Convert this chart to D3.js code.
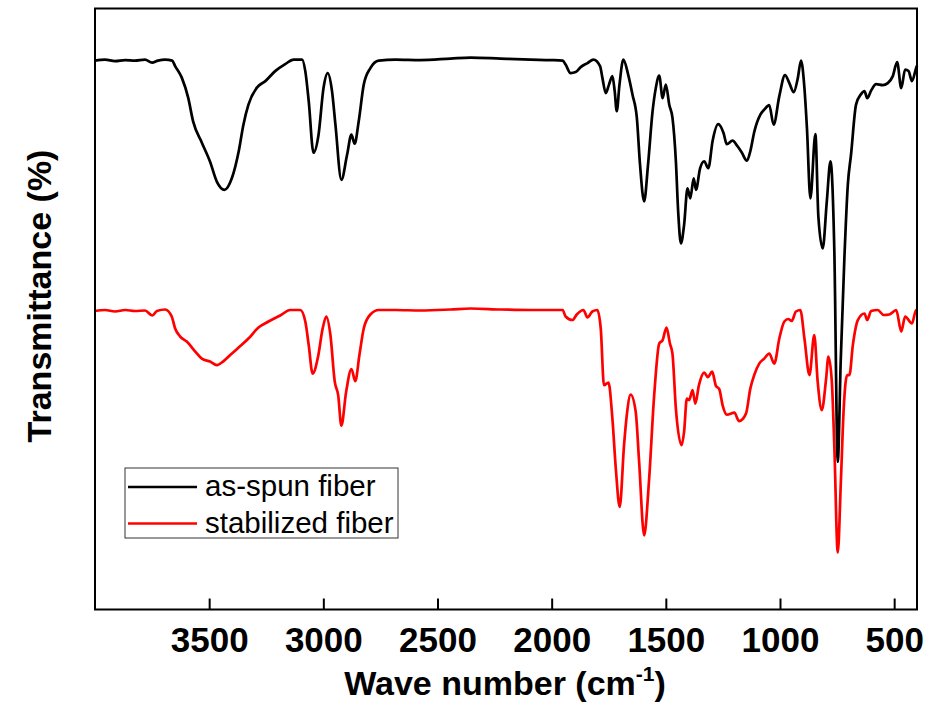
<!DOCTYPE html>
<html>
<head>
<meta charset="utf-8">
<script src="https://cdn.jsdelivr.net/npm/d3@7"></script>
<style>
    body { margin: 0; background: #fff; }
    svg { font-family: "Liberation Sans", Arial, sans-serif; }
</style>
</head>
<body>
<div id="chart"></div>
<script>
// wave numbers (cm-1) and transmittance (a.u.)
let asSpunWave = [4000, 3956, 3912, 3868, 3825, 3781, 3750, 3724, 3693, 3662, 3649, 3620, 3592, 3570, 3532, 3496, 3466, 3433, 3400, 3371,
    3350, 3328, 3291, 3254, 3211, 3167, 3130, 3093, 3079, 3064, 3043, 3021, 2999, 2981, 2962, 2947, 2921, 2896, 2877, 2863,
    2845, 2823, 2794, 2757, 2684, 2575, 2443, 2355, 2224, 2092, 2004, 1952, 1939, 1917, 1895, 1873, 1843, 1817, 1788, 1778,
    1763, 1749, 1734, 1724, 1715, 1703, 1686, 1665, 1646, 1627, 1613, 1595, 1578, 1558, 1544, 1529, 1514, 1500, 1485, 1471,
    1456, 1446, 1434, 1420, 1405, 1393, 1378, 1368, 1350, 1332, 1314, 1295, 1271, 1247, 1233, 1208, 1186, 1168, 1145, 1130,
    1113, 1086, 1069, 1047, 1028, 1003, 978, 959, 940, 922, 908, 893, 882, 867, 845, 832, 813, 795, 779, 762,
    747, 734, 718, 703, 689, 667, 645, 630, 618, 601, 579, 550, 528, 506, 487, 469, 452, 437, 422, 404, 400];
let asSpunT = [109.6, 109.8, 109.5, 109.7, 109.6, 109.8, 109.2, 109.6, 109.8, 109.6, 108.5, 106.2, 102.2, 97.4, 93.2, 89.4, 85.4, 83.8, 86.2, 91.4,
    96.8, 100.8, 104.2, 105.5, 107.5, 108.9, 109.8, 109.8, 107.5, 101.5, 91.2, 94.8, 104.2, 107.1, 103.5, 96.8, 85.8, 90.8, 94.8, 93.0,
    97.5, 104.8, 108.1, 109.6, 109.8, 109.7, 110.0, 110.2, 110.0, 109.8, 109.7, 109.6, 108.8, 107.1, 107.3, 108.3, 109.1, 109.8, 108.5, 106.2,
    103.1, 104.8, 106.5, 103.5, 99.5, 104.8, 109.8, 106.8, 102.8, 98.2, 88.8, 81.5, 88.8, 99.5, 104.1, 106.6, 102.1, 104.8, 100.8, 98.2,
    89.5, 79.5, 73.1, 76.8, 84.1, 82.1, 86.1, 83.8, 88.1, 89.5, 88.1, 93.6, 96.9, 95.1, 92.9, 93.6, 92.5, 91.3, 89.6, 91.5,
    95.3, 98.8, 99.8, 100.7, 96.8, 102.5, 106.7, 105.1, 103.3, 106.1, 109.6, 104.1, 96.1, 82.1, 94.9, 78.5, 72.1, 81.5, 89.5, 71.5,
    29.5, 49.8, 70.2, 84.8, 90.8, 100.8, 102.9, 103.5, 102.1, 103.6, 104.9, 104.7, 105.1, 106.5, 109.3, 104.1, 107.8, 107.5, 105.5, 108.1, 108.6];

let stabilizedWave = [4000, 3956, 3912, 3868, 3825, 3781, 3749, 3729, 3693, 3664, 3649, 3627, 3598, 3561, 3532, 3496, 3466, 3437, 3408, 3371,
    3328, 3284, 3240, 3189, 3145, 3101, 3079, 3064, 3047, 3023, 3003, 2987, 2969, 2950, 2935, 2921, 2900, 2877, 2860, 2842,
    2823, 2794, 2757, 2684, 2575, 2443, 2355, 2224, 2092, 1952, 1939, 1909, 1890, 1861, 1843, 1822, 1800, 1785, 1771, 1751,
    1734, 1719, 1702, 1683, 1671, 1654, 1632, 1617, 1595, 1574, 1551, 1529, 1514, 1497, 1482, 1471, 1456, 1431, 1420, 1408,
    1398, 1383, 1371, 1355, 1332, 1316, 1297, 1281, 1266, 1251, 1233, 1200, 1179, 1149, 1130, 1113, 1091, 1069, 1047, 1025,
    1003, 981, 964, 949, 930, 911, 893, 871, 850, 835, 817, 798, 788, 773, 762, 747, 733, 721, 706, 696,
    681, 659, 630, 618, 601, 572, 546, 521, 491, 469, 452, 422, 404, 400];
let stabilizedT = [59.6, 59.8, 59.5, 59.8, 59.6, 59.7, 58.7, 59.6, 59.9, 58.5, 56.1, 54.5, 53.5, 51.5, 50.1, 49.5, 48.8, 49.6, 50.8, 52.3,
    54.1, 56.3, 57.5, 58.7, 59.8, 59.8, 57.5, 52.8, 47.1, 50.5, 56.1, 58.5, 54.8, 45.5, 42.8, 36.7, 43.5, 48.0, 45.6, 50.8,
    56.1, 58.9, 59.8, 59.8, 59.7, 59.9, 60.1, 59.9, 59.8, 59.8, 58.5, 57.8, 58.9, 59.8, 58.3, 59.5, 59.8, 56.1, 44.8, 45.3,
    38.1, 28.1, 20.5, 32.8, 38.8, 42.9, 39.5, 29.5, 14.8, 25.5, 42.8, 53.1, 53.8, 56.3, 53.1, 51.1, 40.1, 32.8, 35.5, 42.1,
    41.8, 43.8, 41.1, 44.8, 47.3, 46.4, 47.5, 44.7, 44.0, 40.7, 38.9, 39.3, 37.6, 39.1, 44.1, 46.8, 49.1, 50.1, 51.1, 49.1,
    54.1, 57.5, 58.0, 57.6, 59.5, 59.8, 54.1, 46.8, 54.8, 45.5, 39.8, 46.1, 50.5, 45.5, 32.5, 11.4, 26.1, 40.1, 46.8, 46.8,
    52.8, 57.8, 59.1, 57.8, 59.6, 59.8, 58.8, 58.9, 59.8, 55.5, 58.5, 57.1, 59.8, 59.8];

let xTicks = [3500, 3000, 2500, 2000, 1500, 1000, 500];
let seriesNames = ["as-spun fiber", "stabilized fiber"];
let seriesColors = ["#000000", "#ff0000"];

let margin = {top: 8.5, right: 13, bottom: 117.5, left: 95};
let width = 930 - margin.left - margin.right;
let height = 727 - margin.top - margin.bottom;

let svg = d3.select("#chart").append("svg")
    .attr("width", 930)
    .attr("height", 727)
    .append("g")
    .attr("transform", `translate(${margin.left}, ${margin.top})`);

let x = d3.scaleLinear()
    .domain([4000, 400])
    .range([0, width]);

let y = d3.scaleLinear()
    .domain([0, 120])
    .range([height, 0]);

let line = d3.line()
    .curve(d3.curveMonotoneX)
    .x(d => x(d[0]))
    .y(d => y(d[1]));

let series = [
    d3.zip(asSpunWave, asSpunT),
    d3.zip(stabilizedWave, stabilizedT)
];

// stabilized first so the black curve sits on top, as in the picture
svg.selectAll(".spectrum")
    .data([1, 0])
    .enter().append("path")
    .attr("class", "spectrum")
    .attr("fill", "none")
    .attr("stroke", i => seriesColors[i])
    .attr("stroke-width", 2.7)
    .attr("stroke-linejoin", "round")
    .attr("d", i => line(series[i]));

let xAxis = d3.axisBottom(x)
    .tickValues(xTicks)
    .tickSizeInner(-11)
    .tickSizeOuter(0)
    .tickPadding(18)
    .tickFormat(d3.format("d"));

let gx = svg.append("g")
    .attr("class", "x-axis")
    .attr("transform", `translate(0, ${height})`)
    .call(xAxis);
gx.select(".domain").remove();
gx.selectAll("line").attr("stroke", "#000").attr("stroke-width", 2);
gx.selectAll("text")
    .attr("fill", "#000")
    .style("font-family", "'Liberation Sans', Arial, sans-serif")
    .style("font-size", "35px")
    .style("font-weight", "bold");

// frame
svg.append("rect")
    .attr("x", 0)
    .attr("y", 0)
    .attr("width", width)
    .attr("height", height)
    .attr("fill", "none")
    .attr("stroke", "#000")
    .attr("stroke-width", 2);

// axis titles
let xTitle = svg.append("text")
    .attr("x", 505 - margin.left)
    .attr("y", 695 - margin.top)
    .attr("text-anchor", "middle")
    .style("font-size", "34px")
    .style("font-weight", "bold")
    .text("Wave number (cm");
xTitle.append("tspan")
    .attr("dy", -14)
    .style("font-size", "21px")
    .text("-1");
xTitle.append("tspan")
    .attr("dy", 14)
    .text(")");

svg.append("text")
    .attr("transform", `translate(${51 - margin.left}, ${296 - margin.top}) rotate(-90)`)
    .attr("text-anchor", "middle")
    .style("font-size", "34px")
    .style("font-weight", "bold")
    .text("Transmittance (%)");

// legend
let legend = svg.append("g")
    .attr("class", "legend")
    .attr("transform", `translate(${125 - margin.left}, ${468 - margin.top})`);

legend.append("rect")
    .attr("width", 273)
    .attr("height", 70)
    .attr("fill", "#fff")
    .attr("stroke", "#333")
    .attr("stroke-width", 1);

seriesNames.forEach((name, i) => {
    legend.append("line")
        .attr("x1", 3)
        .attr("x2", 72)
        .attr("y1", 19 + i * 36.5)
        .attr("y2", 19 + i * 36.5)
        .attr("stroke", seriesColors[i])
        .attr("stroke-width", 2.7);
    legend.append("text")
        .attr("x", 80)
        .attr("y", 28 + i * 36.5)
        .style("font-size", "29.5px")
        .text(name);
});
</script>
</body>
</html>
